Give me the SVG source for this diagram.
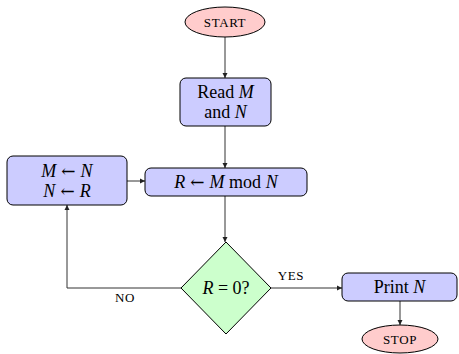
<svg xmlns="http://www.w3.org/2000/svg" width="459" height="354" viewBox="0 0 459 354">
<defs>
<marker id="arr" markerWidth="6" markerHeight="6" refX="5" refY="3" orient="auto" markerUnits="userSpaceOnUse">
<path d="M0,0.5 L5,3 L0,5.5 Z" fill="#222"/>
</marker>
<style>
.term{fill:#ffcccc;stroke:#000;stroke-width:1}
.proc{fill:#ccccff;stroke:#000;stroke-width:1}
.dec{fill:#ccffcc;stroke:#000;stroke-width:1}
.t{font-family:"Liberation Serif","DejaVu Serif",serif;font-size:18px;fill:#000;text-anchor:middle}
.sc{font-family:"Liberation Serif","DejaVu Serif",serif;font-size:13px;fill:#000;text-anchor:middle;letter-spacing:0.6px}
.i{font-style:italic}
.a{font-family:"DejaVu Serif",serif;font-size:17px}
.c{fill:none;stroke:#333;stroke-width:1}
</style>
</defs>
<g id="connectors">
<path class="c" d="M225,37 L225,78" marker-end="url(#arr)"/>
<path class="c" d="M225,126 L225,168" marker-end="url(#arr)"/>
<path class="c" d="M225,196 L225,242" marker-end="url(#arr)"/>
<path class="c" d="M271,288 L342,288" marker-end="url(#arr)"/>
<path class="c" d="M400,301 L400,325" marker-end="url(#arr)"/>
<path class="c" d="M181,288 L67,288 L67,205" marker-end="url(#arr)"/>
<path class="c" d="M127,181 L145,181" marker-end="url(#arr)"/>
<text class="sc" x="291" y="280">YES</text>
<text class="sc" x="125" y="302">NO</text>
</g>
<g id="start">
<ellipse class="term" cx="225" cy="22" rx="40" ry="15"/>
<text class="sc" x="225" y="27">START</text>
</g>
<g id="read">
<rect class="proc" x="180" y="78" width="91" height="48" rx="6"/>
<text class="t" x="225.5" y="98">Read <tspan class="i">M</tspan></text>
<text class="t" x="225.5" y="118">and <tspan class="i">N</tspan></text>
</g>
<g id="mod">
<rect class="proc" x="145" y="168" width="162" height="28" rx="6"/>
<text class="t" x="226" y="188"><tspan class="i">R</tspan><tspan class="a" dx="5">←</tspan><tspan class="i" dx="5">M</tspan> mod <tspan class="i">N</tspan></text>
</g>
<g id="swap">
<rect class="proc" x="7" y="156" width="120" height="49" rx="6"/>
<text class="t" x="67" y="177"><tspan class="i">M</tspan><tspan class="a" dx="5">←</tspan><tspan class="i" dx="5">N</tspan></text>
<text class="t" x="67" y="197"><tspan class="i">N</tspan><tspan class="a" dx="5">←</tspan><tspan class="i" dx="5">R</tspan></text>
</g>
<g id="decision">
<path class="dec" d="M226,242 L271,288 L226,334 L181,288 Z"/>
<text class="t" x="226" y="294"><tspan class="i">R</tspan> = 0?</text>
</g>
<g id="print">
<rect class="proc" x="342" y="273" width="115" height="28" rx="6"/>
<text class="t" x="399.5" y="293">Print <tspan class="i">N</tspan></text>
</g>
<g id="stop">
<ellipse class="term" cx="400" cy="339" rx="38" ry="14"/>
<text class="sc" x="400" y="344">STOP</text>
</g>
</svg>
